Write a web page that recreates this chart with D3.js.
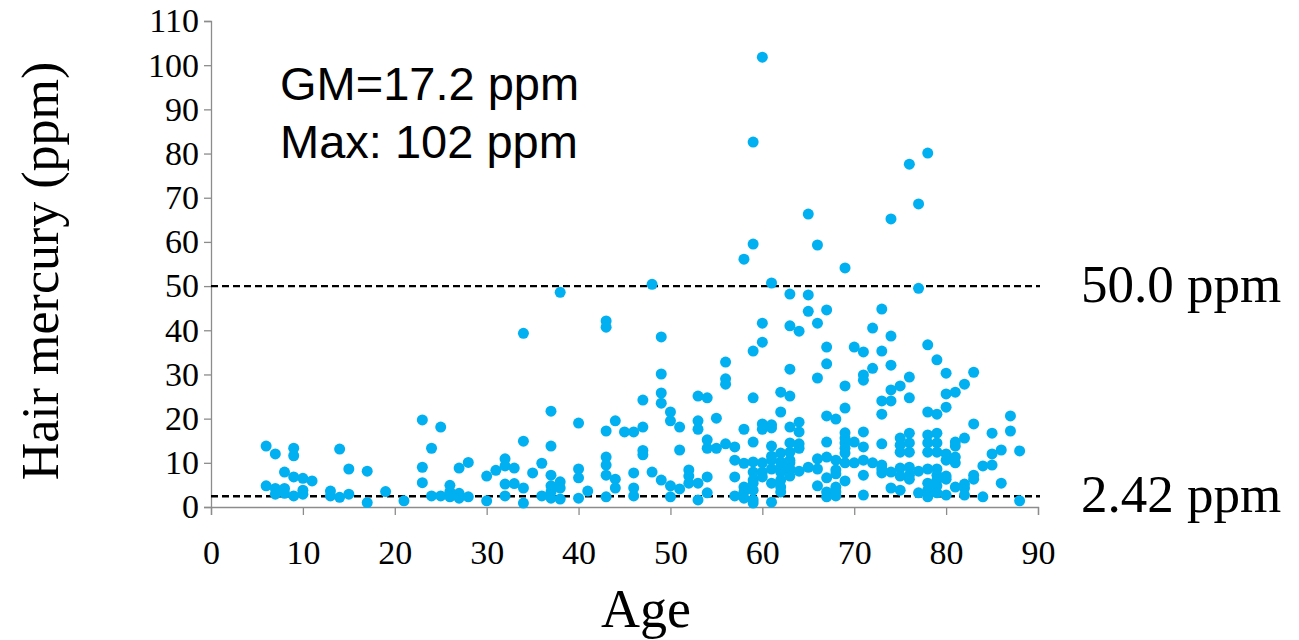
<!DOCTYPE html>
<html>
<head>
<meta charset="utf-8">
<script src="https://cdn.jsdelivr.net/npm/d3@7"></script>
<style>
  html, body { margin: 0; padding: 0; background: #fff; }
  #chart { width: 1299px; height: 640px; }
</style>
</head>
<body>
<div id="chart"></div>
<script>
// ages and hair mercury (ppm)
const ages = [
  6, 6,
  7, 7, 7,
  8, 8, 8,
  9, 9, 9, 9,
  10, 10, 10,
  11,
  13, 13,
  14, 14,
  15, 15,
  17, 17,
  19,
  21,
  23, 23, 23,
  24, 24,
  25, 25,
  26, 26, 26,
  27, 27, 27,
  28, 28,
  30, 30,
  31,
  32, 32, 32, 32,
  33, 33,
  34, 34, 34, 34,
  35,
  36, 36,
  37, 37, 37, 37, 37, 37,
  38, 38, 38, 38,
  40, 40, 40, 40,
  41,
  43, 43, 43, 43, 43, 43, 43,
  44, 44, 44,
  45,
  46, 46, 46, 46,
  47, 47, 47, 47,
  48, 48,
  49, 49, 49, 49, 49,
  50, 50, 50, 50,
  51, 51, 51,
  52, 52, 52,
  53, 53, 53, 53, 53,
  54, 54, 54, 54, 54,
  55, 55,
  56, 56, 56, 56,
  57, 57, 57, 57,
  58, 58, 58, 58, 58, 58,
  59, 59, 59, 59, 59, 59, 59, 59, 59, 59, 59, 59,
  60, 60, 60, 60, 60, 60, 60, 60,
  61, 61, 61, 61, 61, 61, 61, 61, 61,
  62, 62, 62, 62, 62, 62, 62, 62, 62,
  63, 63, 63, 63, 63, 63, 63, 63, 63, 63, 63,
  64, 64, 64, 64, 64, 64,
  65, 65, 65, 65,
  66, 66, 66, 66, 66, 66,
  67, 67, 67, 67, 67, 67, 67, 67, 67,
  68, 68, 68, 68, 68, 68, 68,
  69, 69, 69, 69, 69, 69, 69, 69, 69, 69,
  70, 70, 70,
  71, 71, 71, 71, 71, 71, 71, 71,
  72, 72, 72,
  73, 73, 73, 73, 73, 73, 73, 73,
  74, 74, 74, 74, 74, 74, 74,
  75, 75, 75, 75, 75, 75, 75,
  76, 76, 76, 76, 76, 76, 76, 76, 76,
  77, 77, 77, 77,
  78, 78, 78, 78, 78, 78, 78, 78, 78, 78,
  79, 79, 79, 79, 79, 79, 79, 79, 79, 79,
  80, 80, 80, 80, 80, 80, 80, 80,
  81, 81, 81, 81, 81, 81,
  82, 82, 82, 82, 82,
  83, 83, 83, 83,
  84, 84,
  85, 85, 85,
  86, 86,
  87, 87,
  88, 88
];

const mercury = [
  13.8, 4.8,
  12.0, 4.2, 2.9,
  7.9, 4.2, 3.1,
  13.3, 11.6, 6.8, 2.5,
  6.5, 3.8, 2.9,
  5.9,
  3.6, 2.5,
  13.1, 2.2,
  8.6, 2.9,
  8.1, 1.0,
  3.5,
  1.4,
  19.7, 9.0, 5.5,
  13.3, 2.5,
  18.1, 2.5,
  4.9, 3.5, 2.3,
  8.8, 3.1, 2.0,
  10.1, 2.3,
  7.0, 1.4,
  8.3,
  10.9, 9.3, 5.2, 2.5,
  8.8, 5.3,
  39.3, 14.9, 4.3, 0.9,
  7.7,
  9.9, 2.5,
  21.7, 13.8, 7.2, 4.8, 3.4, 2.0,
  48.6, 5.7, 4.3, 1.8,
  19.0, 8.6, 6.6, 2.0,
  3.6,
  42.1, 40.7, 17.2, 11.3, 9.5, 7.2, 2.3,
  19.5, 6.3, 4.3,
  17.0,
  17.0, 7.7, 4.3, 2.5,
  24.2, 18.1, 12.8, 11.8,
  50.4, 7.9,
  38.5, 30.1, 25.8, 23.5, 6.1,
  21.5, 19.5, 4.8, 2.3,
  18.1, 12.9, 4.1,
  8.4, 7.0, 5.4,
  25.1, 19.5, 17.6, 5.4, 1.6,
  24.7, 15.2, 13.3, 6.8, 3.2,
  20.1, 13.3,
  32.8, 29.0, 27.8, 14.3,
  13.6, 10.6, 6.8, 2.5,
  56.1, 17.6, 9.9, 4.5, 3.4, 2.0,
  82.6, 59.5, 35.3, 24.7, 14.7, 10.2, 7.9, 6.1, 5.4, 3.8, 1.6, 0.9,
  101.8, 41.6, 37.3, 18.8, 17.6, 10.0, 7.9, 6.8,
  50.7, 18.6, 17.9, 13.8, 11.5, 10.6, 8.6, 5.4, 1.1,
  26.0, 21.5, 12.2, 10.2, 9.0, 7.9, 6.1, 4.5, 3.4,
  48.2, 41.0, 31.2, 25.1, 18.1, 14.5, 12.4, 10.6, 10.0, 8.6, 7.0,
  39.8, 19.2, 17.0, 14.3, 13.3, 8.1,
  66.3, 48.0, 44.3, 9.0,
  59.3, 41.6, 29.2, 10.9, 8.6, 4.8,
  44.6, 36.2, 32.4, 20.6, 14.7, 11.3, 6.6, 3.4, 2.3,
  19.9, 10.6, 8.4, 7.5, 4.5, 3.4, 2.5,
  54.1, 27.4, 22.4, 16.8, 15.6, 14.5, 13.3, 12.2, 10.0, 5.9,
  36.2, 14.7, 10.0,
  35.1, 29.9, 28.7, 17.0, 13.6, 10.6, 7.2, 2.7,
  40.5, 31.4, 10.0,
  44.8, 35.3, 24.0, 21.0, 14.3, 9.5, 8.6, 7.7,
  65.2, 38.7, 32.1, 26.5, 24.0, 7.9, 4.3,
  27.4, 15.6, 14.0, 12.4, 8.8, 7.0, 3.8,
  77.6, 29.4, 24.7, 16.7, 14.5, 12.4, 9.0, 7.2, 6.3,
  68.6, 49.5, 8.1, 3.2,
  80.1, 36.7, 21.5, 16.3, 14.5, 12.4, 8.6, 5.4, 3.8, 2.3,
  33.3, 21.0, 16.7, 14.5, 12.4, 8.6, 7.2, 6.1, 4.8, 3.2,
  30.3, 25.6, 22.6, 12.0, 10.6, 7.0, 6.3, 2.7,
  26.0, 14.7, 13.8, 11.3, 10.0, 4.5,
  27.8, 15.6, 5.2, 4.3, 2.7,
  30.5, 18.8, 7.2, 6.3,
  9.3, 2.3,
  16.7, 12.0, 9.5,
  12.9, 5.4,
  20.6, 17.2,
  12.7, 1.4
];

const xTicks = [0, 10, 20, 30, 40, 50, 60, 70, 80, 90];
const yTicks = [0, 10, 20, 30, 40, 50, 60, 70, 80, 90, 100, 110];
const refLines = [50.0, 2.42];
const refLabels = ['50.0 ppm', '2.42 ppm'];
const noteLines = ['GM=17.2 ppm', 'Max: 102 ppm'];

const width = 1299;
const height = 640;
const margin = { top: 21, right: 261, bottom: 133, left: 211 };

const svg = d3.select('#chart').append('svg')
    .attr('width', width)
    .attr('height', height);

const x = d3.scaleLinear()
    .domain([0, 90])
    .range([margin.left, width - margin.right]);

const y = d3.scaleLinear()
    .domain([0, 110])
    .range([height - margin.bottom, margin.top]);

const serif = '"Liberation Serif", "Times New Roman", serif';
const sans = '"Liberation Sans", Arial, sans-serif';
const axisGrey = '#8c8c8c';

// 坐标轴
const xAxis = svg.append('g')
    .attr('transform', `translate(0,${y(0)})`)
    .call(d3.axisBottom(x).tickValues(xTicks).tickSize(8).tickPadding(25));

const yAxis = svg.append('g')
    .attr('transform', `translate(${x(0)},0)`)
    .call(d3.axisLeft(y).tickValues(yTicks).tickSize(7).tickPadding(5));

[xAxis, yAxis].forEach(g => {
    g.select('.domain').attr('stroke', axisGrey).attr('stroke-width', 1.3);
    g.selectAll('.tick line').attr('stroke', axisGrey).attr('stroke-width', 1.3);
    g.selectAll('.tick text')
        .attr('fill', '#000')
        .style('font-family', serif)
        .style('font-size', '34px');
});

// 参考线
svg.selectAll('line.ref')
    .data(refLines)
    .join('line')
    .attr('class', 'ref')
    .attr('x1', x(0))
    .attr('x2', x(90) + 2)
    .attr('y1', d => y(d))
    .attr('y2', d => y(d))
    .attr('stroke', '#000')
    .attr('stroke-width', 2.4)
    .attr('stroke-dasharray', '7,4');

// 散点
const points = ages.map((a, i) => ({ age: a, hg: mercury[i] }));

svg.append('g')
    .selectAll('circle')
    .data(points)
    .join('circle')
    .attr('cx', d => x(d.age))
    .attr('cy', d => y(d.hg))
    .attr('r', 5.5)
    .attr('fill', '#00b0f0');

// 右侧参考线标签
svg.selectAll('text.ref-label')
    .data(refLines)
    .join('text')
    .attr('class', 'ref-label')
    .attr('x', 1081)
    .attr('y', d => y(d) + 16)
    .style('font-family', serif)
    .style('font-size', '53px')
    .text((d, i) => refLabels[i]);

// 注释
svg.selectAll('text.note')
    .data(noteLines)
    .join('text')
    .attr('class', 'note')
    .attr('x', 280)
    .attr('y', (d, i) => 100 + i * 58)
    .style('font-family', sans)
    .style('font-size', '47px')
    .text(d => d);

// 轴标题
svg.append('text')
    .attr('x', 646)
    .attr('y', 627)
    .attr('text-anchor', 'middle')
    .style('font-family', serif)
    .style('font-size', '54px')
    .text('Age');

svg.append('text')
    .attr('transform', 'rotate(-90)')
    .attr('x', -271)
    .attr('y', 58)
    .attr('text-anchor', 'middle')
    .style('font-family', serif)
    .style('font-size', '52px')
    .text('Hair mercury (ppm)');
</script>
</body>
</html>
